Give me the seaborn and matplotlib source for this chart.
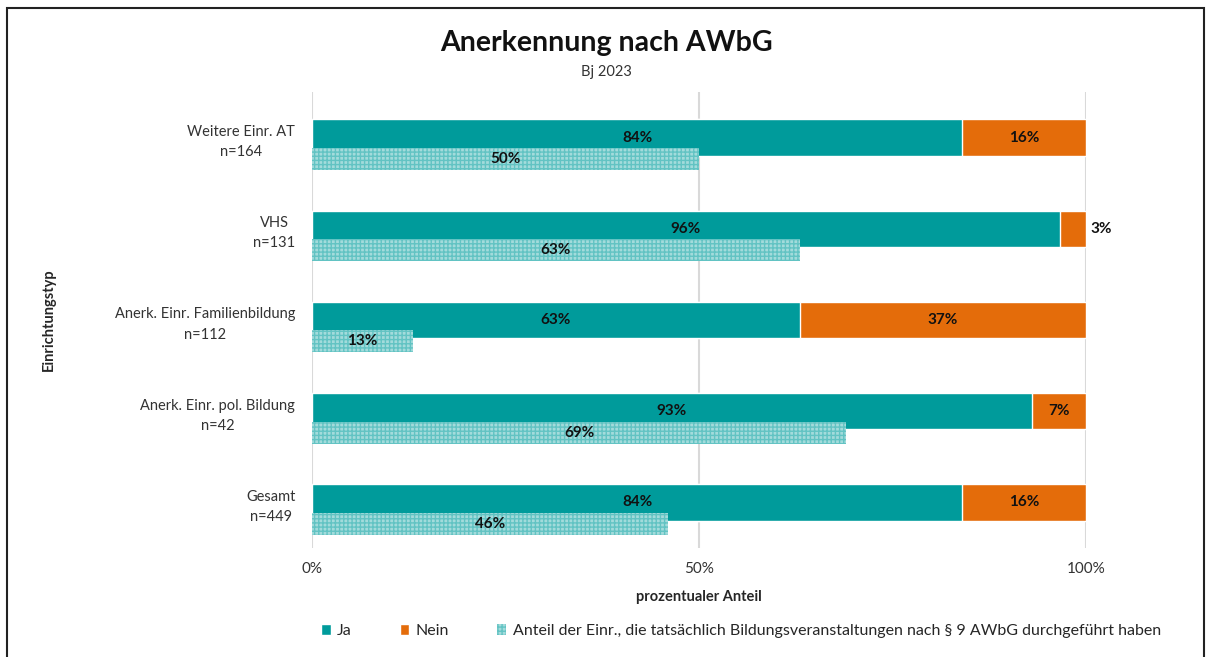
import numpy as np
import pandas as pd
import matplotlib
matplotlib.use("Agg")
import matplotlib.pyplot as plt
from matplotlib.patches import Patch, Rectangle
import seaborn as sns

categories = ["Weitere Einr. AT\nn=164", "VHS\nn=131", "Anerk. Einr. Familienbildung\nn=112",
              "Anerk. Einr. pol. Bildung\nn=42", "Gesamt\nn=449"]
ja = [84, 96.6, 63, 93, 84]
nein = [16, 3.4, 37, 7, 16]
durchgefuehrt = [50, 63, 13, 69, 46]
legend_labels = ["Ja", "Nein",
                 "Anteil der Einr., die tatsächlich Bildungsveranstaltungen nach § 9 AWbG durchgeführt haben"]

TEAL = "#009b9b"
ORANGE = "#e46c0a"
LIGHT = "#a3dbdb"
HATCH = "#62c3c3"

sns.set_theme(style="white")
plt.rcParams["font.family"] = ["Lato", "DejaVu Sans"]

pos = np.arange(len(categories), dtype=float)
df = pd.DataFrame({
    "cat": categories,
    "main_pos": pos,
    "pat_pos": pos + 0.235,
    "total": np.array(ja) + np.array(nein),
    "ja": ja,
    "nein": nein,
    "pat": durchgefuehrt,
})

fig = plt.figure(figsize=(12.12, 6.57), dpi=100)
ax = fig.add_axes([312/1212, 1-548/657, (1086-312)/1212, (548-92)/657])

for xv in [0, 50, 100]:
    ax.axvline(xv, color="#d9d9d9", lw=1.5, zorder=0)

sns.barplot(data=df, x="total", y="main_pos", orient="h", native_scale=True,
            color=ORANGE, saturation=1, width=0.4, ax=ax, zorder=2)
sns.barplot(data=df, x="ja", y="main_pos", orient="h", native_scale=True,
            color=TEAL, saturation=1, width=0.4, ax=ax, zorder=3)
n_before = len(ax.patches)
sns.barplot(data=df, x="pat", y="pat_pos", orient="h", native_scale=True,
            color=LIGHT, saturation=1, width=0.24, ax=ax, zorder=4)
for p in ax.patches[n_before:]:
    p.set_hatch("++++")
    p.set_edgecolor(HATCH)
    p.set_linewidth(0)

LBL = dict(fontsize=11, fontweight="bold", color="#111111", zorder=6, va="center")
for i in range(len(categories)):
    yb = pos[i]
    ax.text(ja[i] / 2, yb, f"{int(ja[i])}%", ha="center", **LBL)
    if nein[i] < 5:
        ax.text(ja[i] + nein[i] + 0.6, yb, f"{int(nein[i])}%", ha="left", **LBL)
    else:
        ax.text(ja[i] + nein[i] / 2, yb, f"{int(nein[i])}%", ha="center", **LBL)
    ax.text(durchgefuehrt[i] / 2, pos[i] + 0.235, f"{int(durchgefuehrt[i])}%", ha="center", **LBL)

ax.set_xlim(0, 100)
ax.set_ylim(4.5, -0.5)
ax.set_xticks([0, 50, 100])
ax.set_xticklabels(["0%", "50%", "100%"], fontsize=11, color="#333333")
ax.set_yticks(pos)
ax.set_yticklabels(categories, fontsize=10.5, color="#333333", multialignment="center",
                   linespacing=1.55)
ax.tick_params(axis="y", length=0, pad=12)
ax.tick_params(axis="x", length=0, pad=10)
for s in ax.spines.values():
    s.set_visible(False)
ax.set_xlabel("prozentualer Anteil", fontsize=10.5, fontweight="bold", labelpad=10)
ax.set_ylabel("Einrichtungstyp", fontsize=10.5, fontweight="bold")
ax.yaxis.set_label_coords(-0.331, 0.5)
ax.grid(False)

fig.text(0.5, 1 - 43/657, "Anerkennung nach AWbG", ha="center", va="center",
         fontsize=20.5, fontweight="bold", color="#111111")
fig.text(0.5, 1 - 72/657, "Bj 2023", ha="center", va="center", fontsize=10.5, color="#333333")

handles = [Patch(facecolor=TEAL), Patch(facecolor=ORANGE),
           Patch(facecolor=LIGHT, edgecolor=HATCH, hatch="++++", linewidth=0)]
fig.legend(handles, legend_labels, loc="center", bbox_to_anchor=(741/1212, 1 - 631/657),
           ncol=3, frameon=False, fontsize=11.5, handlelength=0.6, handleheight=0.7,
           handletextpad=0.4, columnspacing=3.0)

fig.patches.append(Rectangle((7/1212, -0.02), (1204-7)/1212, 1.02 - 8/657,
                             transform=fig.transFigure, fill=False, edgecolor="#222222",
                             lw=1.5, figure=fig))

fig.savefig("out.png", dpi=100)
